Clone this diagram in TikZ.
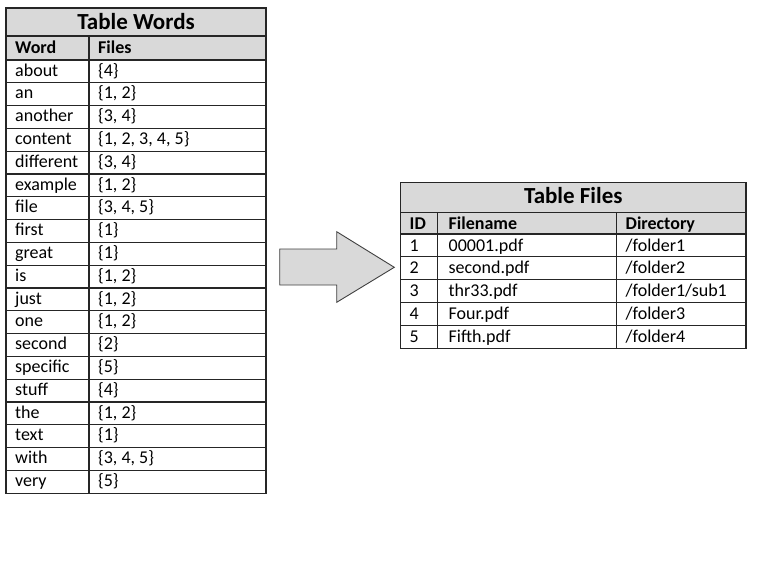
\documentclass[tikz,border=0pt]{standalone}
\usepackage{fontspec}
\setmainfont{Carlito}
\definecolor{headgray}{HTML}{D9D9D9}
\definecolor{arrowline}{HTML}{404040}
\tikzset{
  cell/.style={anchor=base west,inner sep=0pt,font=\fontsize{18}{20}\selectfont},
  headcell/.style={cell,font=\fontsize{18}{20}\selectfont\bfseries},
  tabletitle/.style={anchor=base,inner sep=0pt,font=\fontsize{23}{26}\selectfont\bfseries},
  rule/.style={line width=1.1pt,black!85}
}
\begin{document}
\begin{tikzpicture}[x=1pt,y=-1pt]
\useasboundingbox (0,0) rectangle (779,584);

% table words
\fill[headgray] (6,8) rectangle (266,60);
\draw[rule] (6,8) rectangle (266,493.2);
\draw[rule] (6,36) -- (266,36);
\foreach \y in {60,82.8,...,480} \draw[rule] (6,\y) -- (266,\y);
\draw[rule] (89,36) -- (89,493.2);
\node[tabletitle] (wordsTitle) at (136,29) {Table Words};
\node[headcell] (wordHead) at (15,53) {Word};
\node[headcell] (filesHead) at (98,53) {Files};
\node[cell] (w1) at (15,76) {about};      \node[cell] (f1) at (98,76) {\{4\}};
\node[cell] (w2) at (15,98.8) {an};       \node[cell] (f2) at (98,98.8) {\{1, 2\}};
\node[cell] (w3) at (15,121.6) {another}; \node[cell] (f3) at (98,121.6) {\{3, 4\}};
\node[cell] (w4) at (15,144.4) {content}; \node[cell] (f4) at (98,144.4) {\{1, 2, 3, 4, 5\}};
\node[cell] (w5) at (15,167.2) {different}; \node[cell] (f5) at (98,167.2) {\{3, 4\}};
\node[cell] (w6) at (15,190) {example};   \node[cell] (f6) at (98,190) {\{1, 2\}};
\node[cell] (w7) at (15,212.8) {file};    \node[cell] (f7) at (98,212.8) {\{3, 4, 5\}};
\node[cell] (w8) at (15,235.6) {first};   \node[cell] (f8) at (98,235.6) {\{1\}};
\node[cell] (w9) at (15,258.4) {great};   \node[cell] (f9) at (98,258.4) {\{1\}};
\node[cell] (w10) at (15,281.2) {is};     \node[cell] (f10) at (98,281.2) {\{1, 2\}};
\node[cell] (w11) at (15,304) {just};     \node[cell] (f11) at (98,304) {\{1, 2\}};
\node[cell] (w12) at (15,326.8) {one};    \node[cell] (f12) at (98,326.8) {\{1, 2\}};
\node[cell] (w13) at (15,349.6) {second}; \node[cell] (f13) at (98,349.6) {\{2\}};
\node[cell] (w14) at (15,372.4) {specific}; \node[cell] (f14) at (98,372.4) {\{5\}};
\node[cell] (w15) at (15,395.2) {stuff};  \node[cell] (f15) at (98,395.2) {\{4\}};
\node[cell] (w16) at (15,418) {the};      \node[cell] (f16) at (98,418) {\{1, 2\}};
\node[cell] (w17) at (15,440.8) {text};   \node[cell] (f17) at (98,440.8) {\{1\}};
\node[cell] (w18) at (15,463.6) {with};   \node[cell] (f18) at (98,463.6) {\{3, 4, 5\}};
\node[cell] (w19) at (15,486.4) {very};   \node[cell] (f19) at (98,486.4) {\{5\}};

% arrow
\draw[fill=headgray,draw=arrowline,line width=0.9pt,line join=miter]
  (279.7,249) -- (336.7,249) -- (336.7,231.7) -- (394.3,267.3)
  -- (336.7,302.3) -- (336.7,285) -- (279.7,285) -- cycle;

% table files
\fill[headgray] (400.7,182.7) rectangle (746,234);
\draw[rule] (400.7,182.7) rectangle (746,348.3);
\draw[rule] (400.7,212.3) -- (746,212.3);
\foreach \y in {234,256.86,...,340} \draw[rule] (400.7,\y) -- (746,\y);
\draw[rule] (437.3,212.3) -- (437.3,348.3);
\draw[rule] (616.7,212.3) -- (616.7,348.3);
\node[tabletitle] (filesTitle) at (573.3,203.3) {Table Files};
\node[headcell] (idHead) at (409.5,229.3) {ID};
\node[headcell] (nameHead) at (448.5,229.3) {Filename};
\node[headcell] (dirHead) at (625.5,229.3) {Directory};
\node[cell] (id1) at (409.5,251) {1}; \node[cell] (n1) at (448.5,251) {00001.pdf};  \node[cell] (d1) at (625.5,251) {/folder1};
\node[cell] (id2) at (409.5,273.9) {2}; \node[cell] (n2) at (448.5,273.9) {second.pdf}; \node[cell] (d2) at (625.5,273.9) {/folder2};
\node[cell] (id3) at (409.5,296.7) {3}; \node[cell] (n3) at (448.5,296.7) {thr33.pdf};  \node[cell] (d3) at (625.5,296.7) {/folder1/sub1};
\node[cell] (id4) at (409.5,319.6) {4}; \node[cell] (n4) at (448.5,319.6) {Four.pdf};   \node[cell] (d4) at (625.5,319.6) {/folder3};
\node[cell] (id5) at (409.5,342.4) {5}; \node[cell] (n5) at (448.5,342.4) {Fifth.pdf};  \node[cell] (d5) at (625.5,342.4) {/folder4};
\end{tikzpicture}
\end{document}
